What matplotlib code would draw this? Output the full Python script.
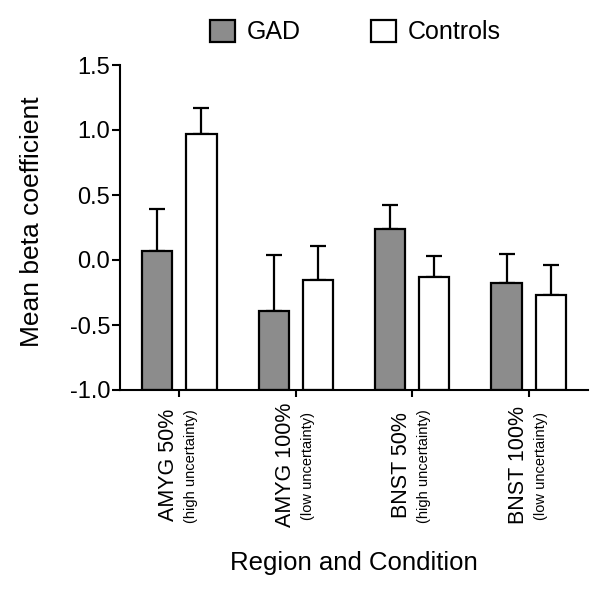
import matplotlib
matplotlib.use("Agg")
import matplotlib.pyplot as plt
import numpy as np
from matplotlib.patches import Patch
import matplotlib.transforms as mtransforms

plt.rcParams['font.family'] = ['Liberation Sans', 'DejaVu Sans']

categories = ["AMYG 50%", "AMYG 100%", "BNST 50%", "BNST 100%"]
sub_labels = ["(high uncertainty)", "(low uncertainty)", "(high uncertainty)", "(low uncertainty)"]
gad_mean = [0.07, -0.39, 0.24, -0.18]
gad_err = [0.32, 0.43, 0.18, 0.23]
ctrl_mean = [0.97, -0.15, -0.13, -0.27]
ctrl_err = [0.20, 0.26, 0.16, 0.23]
series_names = ["GAD", "Controls"]
yticks = [-1.0, -0.5, 0.0, 0.5, 1.0, 1.5]

fig = plt.figure(figsize=(6.0, 5.94), dpi=100)
ax = fig.add_axes([0.2, 1 - 390/594, 0.78, (390 - 65)/594])

x = np.arange(len(categories))
base = -1.0
w = 0.26
off = 0.19
lw = 1.6
gray = "#8c8c8c"

for means, errs, xo, col in [(gad_mean, gad_err, -off, gray), (ctrl_mean, ctrl_err, off, "white")]:
    m = np.array(means)
    ax.bar(x + xo, m - base, bottom=base, width=w, color=col, edgecolor="black", linewidth=lw, zorder=2)
    ax.errorbar(x + xo, m, yerr=[np.zeros_like(m), np.array(errs)], fmt="none",
                ecolor="black", elinewidth=lw, capsize=5.5, capthick=lw, zorder=1)

ax.set_xlim(-0.51, 3.51)
ax.set_ylim(-1.0, 1.5)
ax.set_yticks(yticks)
ax.set_yticklabels([f"{v:.1f}" for v in yticks], fontsize=17)
ax.set_xticks(x)
ax.set_xticklabels([])
for s in ["top", "right"]:
    ax.spines[s].set_visible(False)
for s in ["left", "bottom"]:
    ax.spines[s].set_linewidth(1.5)
ax.tick_params(axis="y", direction="out", length=6, width=1.5, pad=1)
ax.tick_params(axis="x", direction="out", length=5, width=1.5)

fig.text(32/600, 1 - 222/594, "Mean beta coefficient", rotation=90, ha="center", va="center", fontsize=19)

trans = mtransforms.blended_transform_factory(ax.transData, ax.transAxes)
for i, (c, s) in enumerate(zip(categories, sub_labels)):
    t1 = mtransforms.offset_copy(trans, fig=fig, x=-10.5, y=-75, units="dots")
    ax.text(i, 0, c, transform=t1, rotation=90, ha="center", va="center", fontsize=15.5)
    t2 = mtransforms.offset_copy(trans, fig=fig, x=12, y=-76, units="dots")
    ax.text(i, 0, s, transform=t2, rotation=90, ha="center", va="center", fontsize=10.5)

fig.text(0.59, 1 - 563/594, "Region and Condition", ha="center", va="center", fontsize=18.5)

handles = [Patch(facecolor=gray, edgecolor="black", linewidth=lw),
           Patch(facecolor="white", edgecolor="black", linewidth=lw)]
fig.legend(handles, series_names, loc="center", bbox_to_anchor=(0.5925, 1 - 32/594), ncol=2,
           frameon=False, fontsize=18, handlelength=1.0, handleheight=1.0,
           columnspacing=2.8, handletextpad=0.48, borderpad=0, borderaxespad=0)

fig.savefig("out.png", dpi=100)
